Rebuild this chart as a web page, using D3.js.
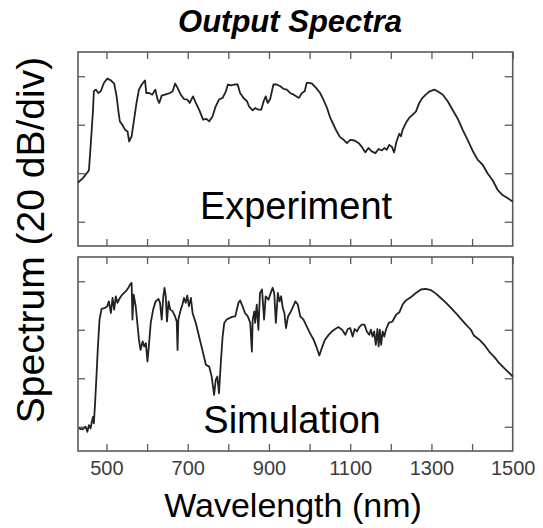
<!DOCTYPE html>
<html>
<head>
<meta charset="utf-8">
<script src="https://cdn.jsdelivr.net/npm/d3@7"></script>
<style>
body { margin: 0; background: #fff; }
text { font-family: "Liberation Sans", Arial, Helvetica, sans-serif; }
</style>
</head>
<body>
<div id="chart"></div>
<script>
//////////////////////////////////////////////////////////////////////////////
// data (wavelength in nm, level in dB)

var expWl = [430, 442, 455, 457, 461, 467, 469, 474, 480, 486, 494, 502, 511, 519, 525, 530, 533, 539, 546, 552,
    556, 562, 568, 574, 580, 587, 595, 598, 605, 613, 620, 626, 630, 636, 644, 650, 656, 663, 669, 675,
    683, 691, 699, 705, 713, 720, 728, 738, 746, 753, 761, 769, 777, 786, 794, 799, 807, 815, 823, 829,
    837, 846, 851, 860, 866, 874, 881, 887, 892, 897, 903, 911, 919, 928, 936, 944, 952, 961, 969, 974,
    981, 988, 993, 999, 1006, 1016, 1026, 1034, 1043, 1051, 1059, 1067, 1075, 1084, 1092, 1100, 1111, 1121, 1129, 1137,
    1145, 1153, 1162, 1170, 1178, 1184, 1190, 1196, 1203, 1208, 1214, 1221, 1225, 1229, 1237, 1245, 1254, 1262, 1270, 1278,
    1286, 1296, 1307, 1315, 1328, 1340, 1352, 1365, 1377, 1389, 1401, 1414, 1426, 1438, 1451, 1463, 1475, 1488, 1500];
var expDb = [-43.9, -42.0, -39.3, -38.6, -29.0, -13.8, -6.2, -5.5, -6.9, -6.2, -2.7, -1.0, -1.7, -3.0, -8.3, -15.1, -18.6, -20.0, -22.1, -22.8,
    -26.9, -24.8, -17.9, -11.0, -5.5, -3.4, -1.7, -6.9, -6.9, -7.6, -5.5, -9.6, -11.0, -8.0, -7.6, -7.3, -6.9, -6.2, -3.0, -4.8,
    -7.6, -9.4, -9.6, -11.0, -8.3, -11.0, -13.8, -17.9, -17.6, -18.6, -16.6, -12.4, -9.6, -8.9, -6.2, -3.4, -3.8, -3.4, -3.4, -6.9,
    -8.9, -10.3, -12.4, -14.1, -13.1, -13.8, -13.8, -10.3, -8.3, -11.0, -9.4, -3.4, -3.4, -4.1, -5.2, -5.5, -6.9, -7.6, -8.5, -8.9,
    -6.9, -6.2, -2.7, -2.7, -3.0, -4.8, -6.9, -9.6, -13.1, -17.2, -20.0, -22.8, -25.1, -26.2, -27.6, -26.2, -26.5, -27.6, -29.2, -31.4,
    -29.6, -31.0, -31.7, -30.0, -30.6, -29.6, -30.3, -28.3, -29.2, -31.4, -26.9, -23.7, -24.8, -22.1, -19.3, -17.2, -15.8, -14.5, -11.0, -8.9,
    -7.6, -6.2, -5.5, -6.2, -7.6, -10.3, -13.8, -17.6, -22.1, -26.2, -30.6, -34.5, -36.5, -40.0, -43.0, -46.9, -49.0, -50.3, -51.7];

var simWl = [432, 441, 449, 453, 457, 461, 464, 467, 469, 472, 475, 479, 483, 488, 497, 502, 506, 511, 515, 519,
    523, 527, 533, 539, 548, 554, 558, 562, 564, 567, 572, 576, 580, 584, 589, 593, 597, 601, 605, 609,
    615, 621, 628, 632, 636, 640, 643, 646, 649, 653, 657, 663, 669, 673, 675, 677, 683, 687, 691, 695,
    699, 703, 708, 712, 720, 728, 736, 745, 753, 759, 765, 769, 773, 777, 782, 786, 790, 796, 809, 817,
    825, 829, 835, 841, 848, 854, 858, 860, 864, 866, 870, 874, 878, 883, 888, 892, 899, 903, 909, 913,
    917, 922, 926, 930, 934, 938, 942, 947, 952, 958, 965, 971, 977, 985, 993, 1001, 1010, 1018, 1024, 1030,
    1038, 1047, 1055, 1063, 1071, 1080, 1088, 1094, 1100, 1106, 1111, 1117, 1122, 1129, 1135, 1141, 1147, 1151, 1155, 1159,
    1163, 1167, 1170, 1173, 1176, 1180, 1184, 1188, 1195, 1204, 1213, 1221, 1229, 1237, 1250, 1262, 1274, 1286, 1299, 1311,
    1323, 1336, 1348, 1360, 1373, 1385, 1397, 1405, 1418, 1430, 1442, 1455, 1467, 1479, 1492, 1500];
var simDb = [-60.7, -61.1, -60.0, -62.1, -59.3, -60.7, -57.9, -55.9, -58.6, -50.3, -40.7, -26.9, -15.8, -11.4, -11.0, -10.3, -8.3, -13.1, -6.9, -11.7,
    -6.2, -8.9, -6.9, -5.5, -4.1, -2.7, -1.4, -0.7, -15.8, -5.5, -10.3, -17.2, -24.1, -28.3, -24.8, -26.9, -25.5, -33.1, -25.5, -17.2,
    -11.7, -8.3, -7.3, -8.9, -15.8, -6.2, -2.7, -6.2, -16.6, -8.3, -11.7, -12.4, -14.5, -16.6, -28.3, -15.8, -11.7, -9.6, -6.9, -8.9,
    -5.9, -10.3, -6.9, -13.1, -17.2, -22.8, -28.3, -34.5, -35.2, -39.3, -46.9, -40.7, -39.3, -46.2, -32.4, -22.8, -17.2, -15.8, -14.7, -14.5,
    -8.9, -7.9, -10.3, -13.1, -14.5, -17.2, -29.0, -15.8, -12.4, -17.2, -9.6, -20.0, -4.8, -3.4, -15.8, -6.2, -7.6, -5.5, -2.7, -4.8,
    -17.2, -4.8, -8.3, -6.2, -11.0, -13.1, -19.3, -14.5, -13.1, -11.0, -8.3, -9.6, -14.5, -15.8, -18.6, -21.4, -24.1, -27.6, -30.6, -27.6,
    -24.1, -22.1, -20.7, -19.7, -18.9, -20.0, -22.1, -19.7, -19.3, -22.8, -19.7, -20.7, -18.9, -17.9, -17.9, -20.7, -22.1, -20.0, -22.8, -20.7,
    -26.2, -19.7, -26.9, -20.0, -26.2, -20.7, -22.8, -20.0, -17.2, -16.6, -13.8, -12.8, -9.6, -7.9, -6.5, -4.8, -3.4, -3.1, -3.7, -5.1,
    -6.9, -8.9, -11.0, -13.1, -15.6, -17.9, -20.0, -22.5, -24.1, -26.2, -29.0, -31.3, -33.8, -35.8, -37.9, -39.3];

var xTicks = [500, 600, 700, 800, 900, 1000, 1100, 1200, 1300, 1400, 1500];
var xLabels = [500, 700, 900, 1100, 1300, 1500];
var yTicks = [0, -20, -40, -60];
var panelNames = ["Experiment", "Simulation"];

//////////////////////////////////////////////////////////////////////////////
// layout

var W = 543, H = 528;
var left = 78, right = 512.7;
var panelTops = [52, 257];
var panelH = 194;
var nameBase = [219, 433];
var nameX = [296, 292];
var frameColor = "#5a5a5a";
var lineColor = "#222";

var svg = d3.select("#chart").append("svg")
    .attr("width", W)
    .attr("height", H);

var x = d3.scaleLinear().domain([430, 1500]).range([left, right]);

function zip(a, b) {
    return a.map(function(v, i) { return [v, b[i]]; });
}

function styleAxis(g) {
    g.select(".domain").remove();
    g.selectAll(".tick line")
        .attr("stroke", frameColor)
        .attr("stroke-width", 1.3);
}

function drawPanel(idx, wl, db, showLabels)
{
    var top = panelTops[idx];
    var y = d3.scaleLinear().domain([-70, 10]).range([top + panelH, top]);
    var g = svg.append("g");

    g.append("g")
        .attr("transform", "translate(0," + top + ")")
        .call(d3.axisTop(x).tickValues(xTicks).tickSize(-7).tickFormat(""))
        .call(styleAxis);

    var bottom = g.append("g")
        .attr("transform", "translate(0," + (top + panelH) + ")")
        .call(d3.axisBottom(x).tickValues(xTicks).tickSize(-7).tickPadding(10)
            .tickFormat(function(d) {
                return (showLabels && xLabels.indexOf(d) >= 0) ? d : "";
            }))
        .call(styleAxis);
    bottom.selectAll(".tick line").filter(function(d) { return d === 1500; }).remove();
    bottom.selectAll("text")
        .attr("font-size", 20)
        .attr("fill", "#3c3c3c")
        .style("font-family", "'Liberation Sans', Arial, sans-serif");

    g.append("g")
        .attr("transform", "translate(" + left + ",0)")
        .call(d3.axisLeft(y).tickValues(yTicks).tickSize(-7).tickFormat(""))
        .call(styleAxis);

    g.append("g")
        .attr("transform", "translate(" + right + ",0)")
        .call(d3.axisRight(y).tickValues(yTicks).tickSize(-8).tickFormat(""))
        .call(styleAxis);

    g.append("rect")
        .attr("x", left)
        .attr("y", top)
        .attr("width", right - left)
        .attr("height", panelH)
        .attr("fill", "none")
        .attr("stroke", frameColor)
        .attr("stroke-width", 1.6);

    var line = d3.line()
        .x(function(d) { return x(d[0]); })
        .y(function(d) { return y(d[1]); });

    g.append("path")
        .datum(zip(wl, db))
        .attr("d", line)
        .attr("fill", "none")
        .attr("stroke", lineColor)
        .attr("stroke-width", 1.8)
        .attr("stroke-linejoin", "round");

    g.append("text")
        .attr("x", nameX[idx])
        .attr("y", nameBase[idx])
        .attr("text-anchor", "middle")
        .attr("font-size", 38)
        .attr("fill", "#000")
        .text(panelNames[idx]);
}

drawPanel(0, expWl, expDb, false);
drawPanel(1, simWl, simDb, true);

// titles
svg.append("text")
    .attr("x", 290)
    .attr("y", 32)
    .attr("text-anchor", "middle")
    .attr("font-size", 31)
    .attr("font-weight", "bold")
    .attr("font-style", "italic")
    .text("Output Spectra");

svg.append("text")
    .attr("transform", "translate(44,240) rotate(-90)")
    .attr("text-anchor", "middle")
    .attr("font-size", 39)
    .text("Spectrum (20 dB/div)");

svg.append("text")
    .attr("x", 293)
    .attr("y", 517)
    .attr("text-anchor", "middle")
    .attr("font-size", 34)
    .text("Wavelength (nm)");
</script>
</body>
</html>
